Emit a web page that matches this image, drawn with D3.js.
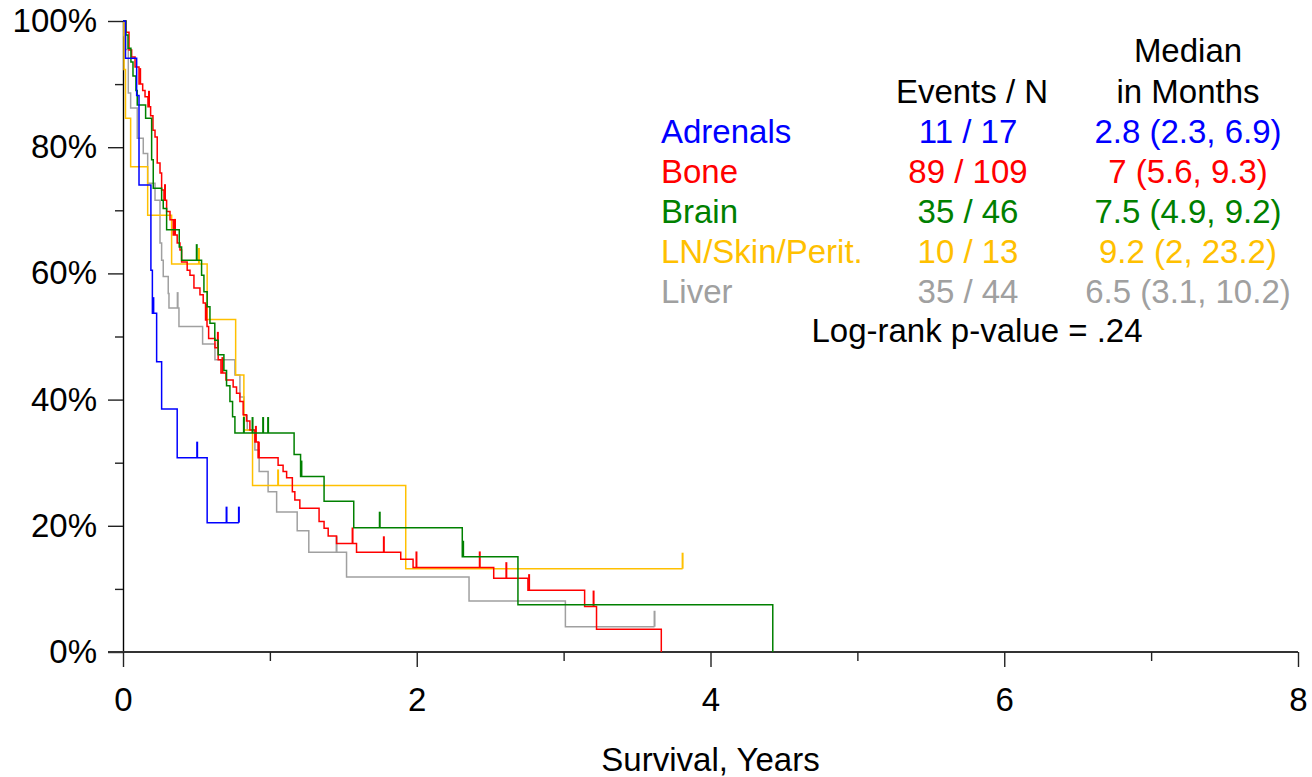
<!DOCTYPE html>
<html>
<head>
<meta charset="utf-8">
<script src="https://cdn.jsdelivr.net/npm/d3@7"></script>
<style>
  html, body { margin: 0; padding: 0; background: #fff; }
  svg { display: block; font-family: "Liberation Sans", Arial, Helvetica, sans-serif; }
</style>
</head>
<body>
<svg id="chart" width="1312" height="777"></svg>
<script>
// Kaplan-Meier survival by site of metastasis (time in years, survival in %)
const groups = ["Adrenals", "Bone", "Brain", "LN/Skin/Perit.", "Liver"];
const colors = ["#0000ff", "#ff0000", "#008000", "#ffc000", "#a0a0a0"];
const eventsN = ["11 / 17", "89 / 109", "35 / 46", "10 / 13", "35 / 44"];
const medians = ["2.8 (2.3, 6.9)", "7 (5.6, 9.3)", "7.5 (4.9, 9.2)", "9.2 (2, 23.2)", "6.5 (3.1, 10.2)"];
const xTicks = [0, 2, 4, 6, 8];
const xMinor = [1, 3, 5, 7];
const yTicks = [0, 20, 40, 60, 80, 100];
const yMinor = [10, 30, 50, 70, 90];

// Adrenals
const adrenalsTime = [0.017, 0.093, 0.109, 0.190, 0.200, 0.229, 0.263, 0.369, 0.573];
const adrenalsSurv = [94.1, 88.2, 74.0, 60.5, 53.7, 46.0, 38.5, 30.8, 20.5];
const adrenalsCensor = [0.207, 0.505, 0.705, 0.789];
const adrenalsEnd = 0.789;

// Bone
const boneTime = [0.020, 0.041, 0.059, 0.082, 0.109, 0.134, 0.150, 0.170, 0.188, 0.204,
  0.218, 0.233, 0.252, 0.263, 0.279, 0.297, 0.320, 0.342, 0.369, 0.388,
  0.399, 0.437, 0.456, 0.483, 0.524, 0.546, 0.562, 0.572, 0.583, 0.626,
  0.648, 0.667, 0.701, 0.750, 0.773, 0.796, 0.818, 0.841, 0.864, 0.898,
  0.920, 1.056, 1.090, 1.114, 1.153, 1.170, 1.204, 1.335, 1.369, 1.397,
  1.454, 1.590, 1.891, 1.975, 2.524, 2.757, 3.143, 3.224, 3.665];
const boneSurv = [98.2, 95.4, 94.3, 92.7, 90.0, 89.0, 88.0, 86.4, 85.0, 82.7,
  81.6, 77.5, 75.9, 73.2, 71.6, 69.8, 68.5, 66.1, 64.8, 63.7,
  61.8, 60.5, 59.7, 57.7, 56.6, 55.3, 52.6, 51.6, 49.7, 48.2,
  46.3, 44.2, 43.1, 42.0, 41.0, 39.7, 37.6, 36.6, 35.2, 33.3,
  30.8, 29.6, 28.6, 27.6, 25.4, 24.1, 22.8, 20.7, 19.6, 18.4,
  17.2, 15.8, 14.7, 13.4, 11.7, 9.8, 7.2, 3.6, 0];
const boneCensor = [0.117, 0.177, 0.286, 0.354, 0.568, 0.646, 0.677, 0.905, 0.925,
  1.563, 1.776, 1.998, 2.429, 2.610, 2.765, 3.204];
const boneEnd = 3.665;

// Brain
const brainTime = [0.020, 0.034, 0.054, 0.068, 0.088, 0.097, 0.154, 0.195, 0.206, 0.263,
  0.274, 0.297, 0.383, 0.399, 0.535, 0.551, 0.573, 0.592, 0.625, 0.648,
  0.687, 0.705, 0.728, 0.746, 0.762, 1.165, 1.209, 1.369, 1.571, 2.310,
  2.689, 4.424];
const brainSurv = [97.8, 95.7, 93.5, 91.3, 89.0, 86.7, 84.6, 78.0, 73.5, 71.6,
  70.3, 66.9, 64.2, 62.1, 59.7, 57.1, 54.7, 52.1, 49.4, 47.1,
  44.6, 42.2, 39.7, 37.3, 34.7, 31.3, 27.8, 23.9, 19.7, 15.1,
  7.5, 0];
const brainCensor = [0.502, 0.823, 0.882, 0.954, 0.988, 1.215, 1.748, 2.316];
const brainEnd = 4.424;

// LN/Skin/Perit.
const lnTime = [0.007, 0.017, 0.052, 0.168, 0.331, 0.573, 0.767, 0.823, 0.882, 1.925];
const lnSurv = [92.3, 84.6, 76.9, 69.2, 61.5, 52.7, 43.9, 35.2, 26.4, 13.2];
const lnCensor = [0.517, 1.056, 3.810];
const lnEnd = 3.810;

// Liver
const liverTime = [0.007, 0.017, 0.036, 0.052, 0.097, 0.138, 0.168, 0.218, 0.252, 0.263,
  0.274, 0.308, 0.313, 0.381, 0.542, 0.626, 0.762, 0.796, 0.823, 0.846,
  0.898, 0.927, 0.988, 1.046, 1.186, 1.265, 1.522, 2.356, 3.012];
const liverSurv = [97.7, 95.5, 88.6, 86.2, 81.4, 79.0, 74.3, 71.6, 64.8, 62.1,
  59.5, 56.8, 54.5, 51.6, 48.8, 46.3, 43.9, 40.4, 37.5, 35.2,
  32.0, 28.6, 25.4, 22.2, 19.2, 15.8, 11.9, 8.1, 4.0];
const liverCensor = [0.372, 1.454, 3.619];
const liverEnd = 3.619;

const series = [
  { name: groups[0], color: colors[0], time: adrenalsTime, surv: adrenalsSurv, censor: adrenalsCensor, end: adrenalsEnd },
  { name: groups[1], color: colors[1], time: boneTime, surv: boneSurv, censor: boneCensor, end: boneEnd },
  { name: groups[2], color: colors[2], time: brainTime, surv: brainSurv, censor: brainCensor, end: brainEnd },
  { name: groups[3], color: colors[3], time: lnTime, surv: lnSurv, censor: lnCensor, end: lnEnd },
  { name: groups[4], color: colors[4], time: liverTime, surv: liverSurv, censor: liverCensor, end: liverEnd }
];

const FS = 33;
const svg = d3.select("#chart");
const x = d3.scaleLinear().domain([0, 8]).range([123, 1298]);
const y = d3.scaleLinear().domain([0, 100]).range([652, 21]);

// survival level at time t (value after any drop at t)
function levelAt(s, t) {
  let v = 100;
  for (let i = 0; i < s.time.length; i++) { if (s.time[i] <= t) v = s.surv[i]; }
  return v;
}

// axes
const yAxis = svg.append("g").attr("transform", `translate(${x(0)},0)`)
  .call(d3.axisLeft(y).tickValues(yTicks).tickFormat(d => d + "%").tickSize(15).tickSizeOuter(0).tickPadding(11));
svg.append("g").attr("transform", `translate(${x(0)},0)`)
  .call(d3.axisLeft(y).tickValues(yMinor).tickFormat("").tickSize(8).tickSizeOuter(0))
  .call(g => g.select(".domain").remove());
const xAxis = svg.append("g").attr("transform", `translate(0,${y(0)})`)
  .call(d3.axisBottom(x).tickValues(xTicks).tickFormat(d3.format("d")).tickSize(15).tickSizeOuter(0).tickPadding(21));
svg.append("g").attr("transform", `translate(0,${y(0)})`)
  .call(d3.axisBottom(x).tickValues(xMinor).tickFormat("").tickSize(9).tickSizeOuter(0))
  .call(g => g.select(".domain").remove());

// extend x axis line to the left of the y axis (0% tick)
xAxis.select(".domain").attr("d", `M${x(0) - 15},0H${x(8)}`);
svg.selectAll(".tick line").attr("stroke", "#222").attr("stroke-width", 1.4);
xAxis.select(".domain").attr("stroke", "#333").attr("stroke-width", 2.2);
yAxis.select(".domain").attr("stroke", "#000").attr("stroke-width", 1.4);
svg.selectAll(".tick text").attr("font-size", FS).attr("fill", "#000")
  .attr("font-family", "'Liberation Sans', Arial, sans-serif");

// curves
const line = d3.line().x(d => x(d[0])).y(d => y(d[1])).curve(d3.curveStepAfter);
const drawOrder = [4, 3, 1, 2, 0];
drawOrder.forEach(i => {
  const s = series[i];
  const pts = [[0, 100]];
  s.time.forEach((t, j) => pts.push([t, s.surv[j]]));
  const last = pts[pts.length - 1];
  if (last[0] < s.end) pts.push([s.end, last[1]]);
  const g = svg.append("g");
  g.append("path").attr("d", line(pts)).attr("fill", "none")
    .attr("stroke", s.color).attr("stroke-width", 1.5);
  g.selectAll("line.censor").data(s.censor).enter().append("line")
    .attr("class", "censor")
    .attr("x1", d => x(d)).attr("x2", d => x(d))
    .attr("y1", d => y(levelAt(s, d))).attr("y2", d => y(levelAt(s, d)) - 16)
    .attr("stroke", s.color).attr("stroke-width", 2);
});

// axis title
svg.append("text").attr("x", (x(0) + x(8)) / 2).attr("y", 771)
  .attr("text-anchor", "middle").attr("font-size", FS).text("Survival, Years");

// legend table
const lg = svg.append("g").attr("font-size", FS);
lg.append("text").attr("x", 1188).attr("y", 62).attr("text-anchor", "middle").text("Median");
lg.append("text").attr("x", 972).attr("y", 103).attr("text-anchor", "middle").text("Events / N");
lg.append("text").attr("x", 1188).attr("y", 103).attr("text-anchor", "middle").text("in Months");
groups.forEach((name, i) => {
  const by = 143 + i * 40;
  lg.append("text").attr("x", 661).attr("y", by).attr("fill", colors[i]).text(name);
  lg.append("text").attr("x", 968).attr("y", by).attr("text-anchor", "middle").attr("fill", colors[i]).text(eventsN[i]);
  lg.append("text").attr("x", 1188).attr("y", by).attr("text-anchor", "middle").attr("fill", colors[i]).text(medians[i]);
});
lg.append("text").attr("x", 977).attr("y", 342).attr("text-anchor", "middle").text("Log-rank p-value = .24");
</script>
</body>
</html>
